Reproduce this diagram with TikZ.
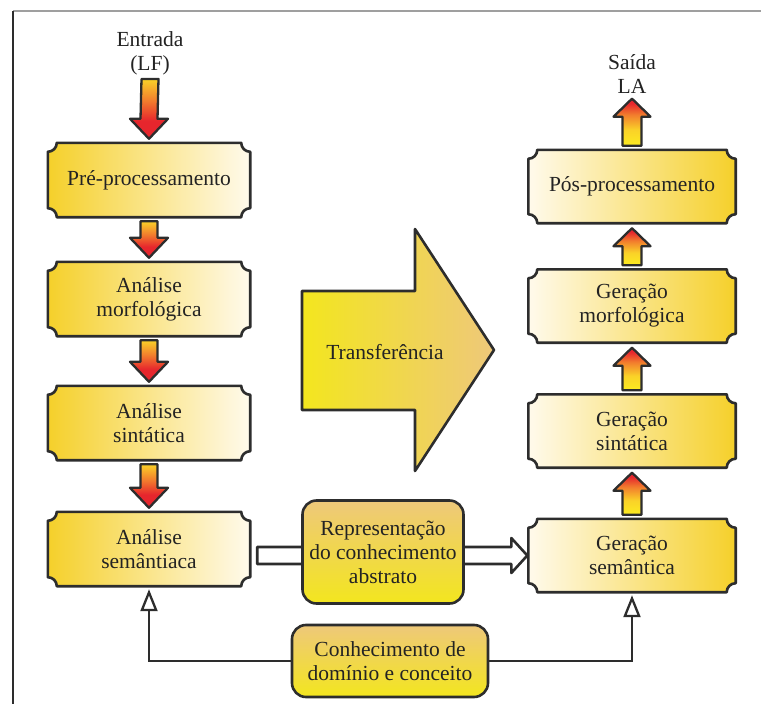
\documentclass[tikz,border=0pt]{standalone}
\usepackage{fontspec}
\setmainfont{Liberation Serif}
\usetikzlibrary{calc,arrows.meta}
\pgfdeclarelayer{edgelayer}
\pgfsetlayers{edgelayer,main}

\definecolor{ouro}{RGB}{245,208,42}
\definecolor{creme}{RGB}{255,250,236}
\definecolor{amarelo}{RGB}{243,230,30}
\definecolor{areia}{RGB}{238,200,122}
\definecolor{gema}{RGB}{250,210,40}
\definecolor{laranja}{RGB}{242,125,45}
\definecolor{vermelho}{RGB}{230,38,45}
\definecolor{limao}{RGB}{252,236,32}
\definecolor{contorno}{RGB}{45,45,45}
\definecolor{texto}{RGB}{35,35,35}

\pgfdeclareverticalshading{descida}{100bp}{color(0bp)=(vermelho); color(25bp)=(vermelho); color(40bp)=(vermelho); color(57bp)=(laranja); color(75bp)=(gema); color(100bp)=(gema)}
\pgfdeclareverticalshading{subida}{100bp}{color(0bp)=(limao); color(25bp)=(limao); color(42bp)=(gema); color(58bp)=(laranja); color(70bp)=(vermelho); color(100bp)=(vermelho)}

\tikzset{
  rotulo/.style={font=\fontsize{21.5}{24}\selectfont, text=texto, align=center, inner sep=0pt},
  etapa/.style={rotulo, minimum width=202pt, minimum height=74pt},
  geracao/.style={rotulo, minimum width=207pt, minimum height=73pt},
  moldura/.style={draw=contorno, line width=2.6pt, line join=round},
  conceito/.style={rotulo, moldura, rounded corners=14pt, top color=areia, bottom color=amarelo},
  setabaixo/.style={moldura, line width=2.3pt, shading=descida},
  setacima/.style={moldura, line width=2.3pt, shading=subida},
  retorno/.style={draw=contorno, line width=2.3pt, -{Triangle[open, length=22pt, width=17pt]}, shorten >=3pt}
}

\begin{document}
\begin{tikzpicture}[x=1pt,y=-1pt]
\useasboundingbox (0,0) rectangle (761,704);
\draw[line width=1.5pt, gray!75] (13,11) -- (761,11);
\draw[line width=1.5pt, contorno] (13,11) -- (13,704);

% analise (left column)
\node[rotulo] (entrada) at (150,53) {Entrada\\(LF)};
\node[etapa] (pre) at (149,180) {Pré-processamento};
\node[etapa] (morfA) at (149,299) {Análise\\morfológica};
\node[etapa] (sintA) at (149,423) {Análise\\sintática};
\node[etapa] (semA) at (149,549) {Análise\\semântiaca};

% geracao (right column)
\node[rotulo] (saida) at (632,74) {Saída\\LA};
\node[geracao] (pos) at (632,186.5) {Pós-processamento};
\node[geracao] (morfG) at (632,306) {Geração\\morfológica};
\node[geracao] (sintG) at (632,431) {Geração\\sintática};
\node[geracao] (semG) at (632,555.5) {Geração\\semântica};

\node[rotulo] (transf) at (385,352) {Transferência};
\node[conceito, minimum width=161pt, minimum height=103pt] (repr) at (383,552) {Representação\\do conhecimento\\abstrato};
\node[conceito, minimum width=196pt, minimum height=72pt] (conh) at (390,661) {Conhecimento de\\domínio e conceito};

\begin{pgfonlayer}{edgelayer}
\foreach \n in {pre,morfA,sintA,semA}
  \draw[moldura, left color=ouro, right color=creme]
    ($(\n.north west)+(9,0)$) -- ($(\n.north east)+(-9,0)$) arc[start angle=180,end angle=90,radius=9]
    -- ($(\n.south east)+(0,-9)$) arc[start angle=270,end angle=180,radius=9]
    -- ($(\n.south west)+(9,0)$) arc[start angle=0,end angle=-90,radius=9]
    -- ($(\n.north west)+(0,9)$) arc[start angle=90,end angle=0,radius=9] -- cycle;
\foreach \n in {pos,morfG,sintG,semG}
  \draw[moldura, left color=creme, right color=ouro]
    ($(\n.north west)+(9,0)$) -- ($(\n.north east)+(-9,0)$) arc[start angle=180,end angle=90,radius=9]
    -- ($(\n.south east)+(0,-9)$) arc[start angle=270,end angle=180,radius=9]
    -- ($(\n.south west)+(9,0)$) arc[start angle=0,end angle=-90,radius=9]
    -- ($(\n.north west)+(0,9)$) arc[start angle=90,end angle=0,radius=9] -- cycle;
% big arrow
\draw[moldura, left color=amarelo, right color=areia]
  (302,291) -- (415,291) -- (415,229) -- (494,350) -- (415,471) -- (415,410) -- (302,410) -- cycle;
% hollow arrow behind repr
\draw[moldura, fill=white]
  ($(semA.east |- semG.west)+(7,-8.5)$) -- ($(semG.west)+(-17,-8.5)$) -- ($(semG.west)+(-17,-17.5)$)
  -- ($(semG.west)+(-1,0)$) -- ($(semG.west)+(-17,17.5)$) -- ($(semG.west)+(-17,8.5)$)
  -- ($(semA.east |- semG.west)+(7,8.5)$) -- cycle;
\end{pgfonlayer}

% down arrows
\foreach \a/\b in {entrada/pre,pre/morfA,morfA/sintA,sintA/semA}
  \draw[setabaixo] ($(\a.south)+(-8.5,4)$) -- ($(\a.south)+(8.5,4)$) -- ($(\b.north)+(8.5,-24)$)
    -- ($(\b.north)+(19,-24)$) -- ($(\b.north)+(0,-4)$) -- ($(\b.north)+(-19,-24)$)
    -- ($(\b.north)+(-8.5,-24)$) -- cycle;
% up arrows
\foreach \a/\b in {semG/sintG,sintG/morfG,morfG/pos,pos/saida}
  \draw[setacima] ($(\a.north)+(-9.5,-4)$) -- ($(\a.north)+(9.5,-4)$) -- ($(\b.south)+(9.5,23)$)
    -- ($(\b.south)+(18.5,23)$) -- ($(\b.south)+(0,5)$) -- ($(\b.south)+(-18.5,23)$)
    -- ($(\b.south)+(-9.5,23)$) -- cycle;

\draw[retorno] (conh.west) -| (semA.south);
\draw[retorno] (conh.east) -| (semG.south);
\end{tikzpicture}
\end{document}
